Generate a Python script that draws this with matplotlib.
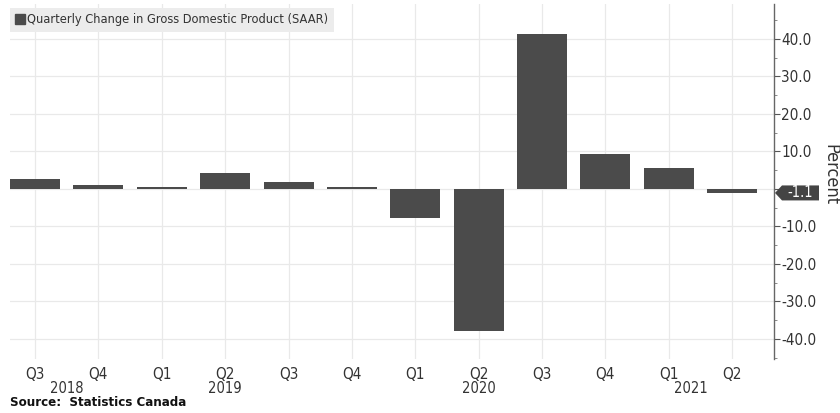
import matplotlib
matplotlib.use("Agg")
import matplotlib.pyplot as plt
import matplotlib.transforms as mtransforms
from matplotlib.patches import Polygon
from matplotlib.lines import Line2D
import numpy as np

plt.rcParams['font.family'] = ['DejaVu Sans']
plt.rcParams['font.stretch'] = 'condensed'

quarters = ["Q3", "Q4", "Q1", "Q2", "Q3", "Q4", "Q1", "Q2", "Q3", "Q4", "Q1", "Q2"]
values = [2.5, 1.1, 0.4, 4.3, 1.8, 0.4, -7.8, -38.0, 41.4, 9.3, 5.5, -1.1]
years = ["2018", "2019", "2020", "2021"]
year_pos = [0.5, 3, 7, 10.35]
yticks = [40, 30, 20, 10, -10, -20, -30, -40]
series_name = "Quarterly Change in Gross Domestic Product (SAAR)"
source = "Source:  Statistics Canada"
last_label = "-1.1"

bar_color = "#4b4b4b"
grid_color = "#e9e9e9"
text_color = "#333333"

fig = plt.figure(figsize=(8.4, 4.13), dpi=100)
ax = fig.add_axes([10/840, 1-359/413, 764/840, 355/413])

x = np.arange(len(values))
ax.bar(x, values, width=0.79, color=bar_color, zorder=3)

ax.set_xlim(-0.395, 11.66)
ax.set_ylim(-45.4, 49.3)

ax.yaxis.tick_right()
ax.yaxis.set_label_position("right")
ax.set_yticks(yticks + [0])
ax.set_yticklabels([f"{v:.1f}" for v in yticks] + [""])
ax.set_yticks(np.arange(-45, 50, 5), minor=True)
ax.tick_params(axis='y', which='major', length=4, width=0.8, colors='#555555',
               labelcolor=text_color, labelsize=11, pad=1)
ax.tick_params(axis='y', which='minor', length=2, width=0.6, colors='#777777')
ax.set_ylabel("Percent", rotation=270, fontsize=13, color=text_color)
ax.yaxis.set_label_coords(1.085, 0.52)

ax.set_xticks(x)
ax.set_xticklabels(quarters)
ax.tick_params(axis='x', length=0, labelsize=11, labelcolor=text_color, pad=6)
year_trans = (mtransforms.blended_transform_factory(ax.transData, ax.transAxes)
              + mtransforms.ScaledTranslation(0, -0.22, fig.dpi_scale_trans))
for yl, yp in zip(years, year_pos):
    ax.text(yp, 0.0, yl, transform=year_trans, ha='center', va='top',
            fontsize=10.5, color=text_color)

ax.grid(True, axis='both', color=grid_color, linewidth=0.9, zorder=0)
for s in ["left", "top", "bottom"]:
    ax.spines[s].set_visible(False)
ax.spines["right"].set_color("#666666")
ax.spines["right"].set_linewidth(1.0)

# last-value tag
blend = mtransforms.blended_transform_factory(ax.transAxes, ax.transData)
trans = fig.dpi_scale_trans + mtransforms.ScaledTranslation(1.0, values[-1], blend)
verts = np.array([[1, 0], [8, 7.5], [45, 7.5], [45, -7.5], [8, -7.5]]) / 100.0
poly = Polygon(verts, closed=True, transform=trans, facecolor="#444444",
               edgecolor="none", clip_on=False, zorder=5)
ax.add_patch(poly)
ax.text(0.265, 0.0, last_label, transform=trans, ha='center', va='center',
        fontsize=10.5, color='white', zorder=6, clip_on=False)

# legend
handle = Line2D([], [], marker='s', linestyle='none', color=bar_color, markersize=7)
leg = ax.legend([handle], [series_name], loc='upper left', bbox_to_anchor=(0.0, 0.99),
                frameon=True, fontsize=9.2, handlelength=0.6, handletextpad=0.3,
                borderpad=0.45, borderaxespad=0.0, fancybox=False)
leg.get_frame().set_facecolor("#ececec")
leg.get_frame().set_edgecolor("none")
leg.get_frame().set_alpha(1)
for t in leg.get_texts():
    t.set_color(text_color)

fig.text(10/840, 1-403/413, source, fontsize=9.5, fontweight='bold', color='#111111',
         ha='left', va='center')

fig.savefig("out.png", dpi=100)
